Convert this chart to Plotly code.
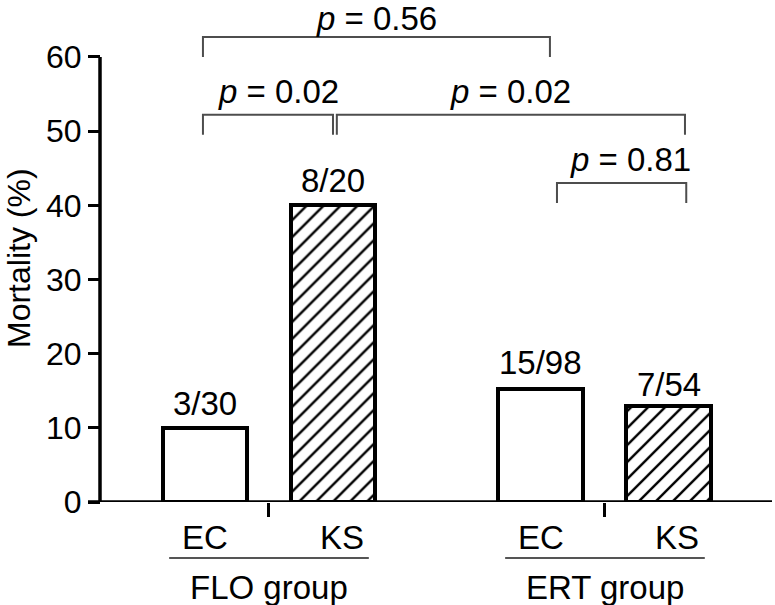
import plotly.graph_objects as go

# ---------------- data ----------------
groups = ["FLO group", "ERT group"]
subgroups = ["EC", "KS", "EC", "KS"]
mortality = [10.0, 40.0, 15.3, 13.0]          # %
count_labels = ["3/30", "8/20", "15/98", "7/54"]
hatched = [False, True, False, True]

# comparisons: (bar_i, bar_j, p text)
comparisons = [(0, 2, "0.56"), (0, 1, "0.02"), (1, 3, "0.02"), (2, 3, "0.81")]
y_ticks = [0, 10, 20, 30, 40, 50, 60]

# ---------------- layout / style ----------------
W, H = 775, 605
FONT = "Liberation Sans, Arial, sans-serif"
TXT = 33
within_gap = 1.0
between_gap = 1.625
xpos = [1.0, 1.0 + within_gap, 1.0 + within_gap + between_gap,
        1.0 + 2 * within_gap + between_gap]
bar_w = 0.664
x_range = [0.0859, 5.430]
y_range = [0, 67.68]
L, R, T, B = 88, 3, 0, 103
plot_w = W - L - R
plot_h = H - T - B
yaxis_pos = 12 / plot_w

# bracket geometry (level, leg bottom, left/right offsets from bar centres)
br_level = [62.7, 52.2, 52.2, 43.0]
br_leg = [60.0, 49.5, 49.5, 40.3]
br_off = [(-0.016, 0.07), (-0.016, 0.0), (0.03, 0.125), (0.125, 0.135)]
txt_dx = [0.0, 0.08, 0.0, 0.07]
txt_shift = [-2, 3, 3, 3]
label_shift = [4, 4, 6, 1]
br_color = "#4d4d4d"

fig = go.Figure()
fig.add_trace(go.Bar(
    x=xpos, y=mortality, width=bar_w,
    marker=dict(
        color="white",
        line=dict(color="black", width=4),
        pattern=dict(shape=["/" if h else "" for h in hatched],
                     fgcolor="black", bgcolor="white", fgopacity=1,
                     size=12, solidity=0.2),
    ),
    showlegend=False, hoverinfo="skip",
))

shapes = []
annotations = []

# y-axis line (only 0..60)
shapes.append(dict(type="line", xref="paper", yref="y", x0=yaxis_pos, x1=yaxis_pos,
                   y0=0, y1=max(y_ticks), line=dict(color="black", width=3.5)))
# x-axis line (extends left of y axis)
shapes.append(dict(type="line", xref="paper", yref="y", x0=0, x1=1, y0=0, y1=0,
                   line=dict(color="black", width=3.5)))

# bar count labels
for x, v, t, s in zip(xpos, mortality, count_labels, label_shift):
    annotations.append(dict(x=x, y=v, xref="x", yref="y", text=t, showarrow=False,
                            yanchor="bottom", yshift=s,
                            font=dict(size=TXT, color="black", family=FONT)))

# brackets
for k, (i, j, p) in enumerate(comparisons):
    xa = xpos[i] + br_off[k][0]
    xb = xpos[j] + br_off[k][1]
    path = f"M {xa} {br_leg[k]} L {xa} {br_level[k]} L {xb} {br_level[k]} L {xb} {br_leg[k]}"
    shapes.append(dict(type="path", xref="x", yref="y", path=path,
                       line=dict(color=br_color, width=2)))
    annotations.append(dict(x=(xa + xb) / 2 + txt_dx[k], y=br_level[k], xref="x", yref="y",
                            text=f"<i>p</i> = {p}", showarrow=False, yanchor="bottom",
                            yshift=txt_shift[k],
                            font=dict(size=TXT, color="black", family=FONT)))

# subgroup labels
sub_dx = [0.0, 0.07, 0.0, 0.06]
for x, s, d in zip(xpos, subgroups, sub_dx):
    annotations.append(dict(x=x + d, y=0, xref="x", yref="y", text=s, showarrow=False,
                            yanchor="middle", yshift=-35,
                            font=dict(size=TXT, color="black", family=FONT)))

# group underline + labels
for g, name in enumerate(groups):
    c = (xpos[2 * g] + xpos[2 * g + 1]) / 2
    shapes.append(dict(type="line", xref="x", yref="paper", x0=c - 0.78, x1=c + 0.78,
                       y0=-56 / plot_h, y1=-56 / plot_h,
                       line=dict(color="#555555", width=2)))
    annotations.append(dict(x=c, y=0, xref="x", yref="y", text=name, showarrow=False,
                            yanchor="middle", yshift=-85,
                            font=dict(size=TXT, color="black", family=FONT)))

# y title
annotations.append(dict(x=(19 - L) / plot_w, y=(H - B - 258) / plot_h,
                        xref="paper", yref="paper", text="Mortality (%)",
                        showarrow=False, textangle=-90, xanchor="center", yanchor="middle",
                        font=dict(size=32, color="black", family=FONT)))

fig.update_layout(
    width=W, height=H,
    margin=dict(l=L, r=R, t=T, b=B, pad=0),
    plot_bgcolor="white", paper_bgcolor="white",
    shapes=shapes, annotations=annotations,
    xaxis=dict(range=x_range, showgrid=False, zeroline=False, showline=False,
               tickvals=[(xpos[0] + xpos[1]) / 2, (xpos[2] + xpos[3]) / 2],
               ticks="outside", ticklen=14, tickwidth=3, tickcolor="black",
               showticklabels=False),
    yaxis=dict(range=y_range, anchor="free", position=yaxis_pos, showgrid=False,
               zeroline=False, showline=False, tickvals=y_ticks,
               ticks="outside", ticklen=12, tickwidth=3, tickcolor="black",
               tickfont=dict(size=32, color="black", family=FONT)),
    bargap=0,
)

fig.write_html("out.html", config={"displayModeBar": False},
               post_script="document.body.style.margin='0';")
